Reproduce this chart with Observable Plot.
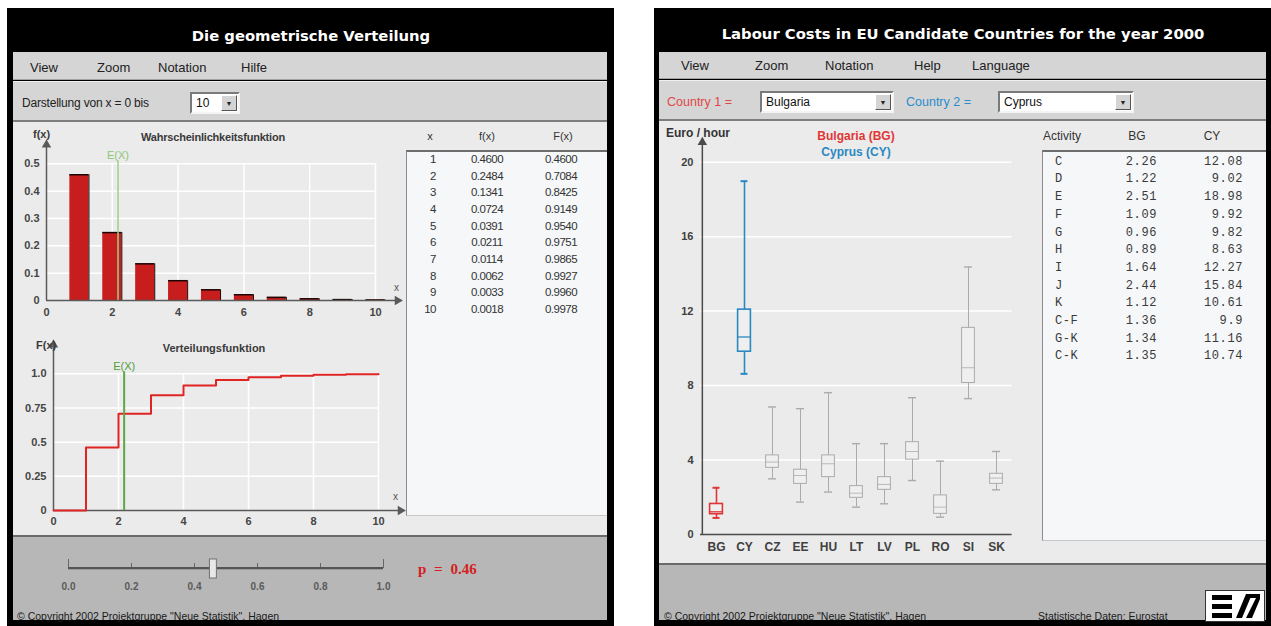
<!DOCTYPE html>
<html><head><meta charset="utf-8">
<script src="https://cdn.jsdelivr.net/npm/d3@7"></script>
<script src="https://cdn.jsdelivr.net/npm/@observablehq/plot@0.6"></script>
<style>
html,body{margin:0;padding:0;background:#fff;}
body{width:1271px;height:626px;position:relative;overflow:hidden;font-family:"Liberation Sans",Arial,sans-serif;}
</style></head>
<body>
<script>
// ---------- data: geometric distribution ----------
const pValue = 0.46;
const kValues = [1,2,3,4,5,6,7,8,9,10];
const pmfValues = [0.4600,0.2484,0.1341,0.0724,0.0391,0.0211,0.0114,0.0062,0.0033,0.0018];
const cdfValues = [0.4600,0.7084,0.8425,0.9149,0.9540,0.9751,0.9865,0.9927,0.9960,0.9978];
const xTicks = [0,2,4,6,8,10];
const pmfYTicks = [0,0.1,0.2,0.3,0.4,0.5];
const cdfYTicks = [0,0.25,0.5,0.75,1.0];
const sliderTicks = [0,0.2,0.4,0.6,0.8,1.0];

// ---------- data: labour costs ----------
const countries = ["BG","CY","CZ","EE","HU","LT","LV","PL","RO","SI","SK"];
const whiskerLow  = [0.89, 8.63, 2.99, 1.74, 2.28, 1.47, 1.65, 2.90, 0.93, 7.30, 2.40];
const boxLow      = [1.09, 9.82, 3.58, 2.72, 3.08, 1.97, 2.40, 4.02, 1.11, 8.14, 2.72];
const medians     = [1.22,10.61, 3.89, 3.17, 3.80, 2.22, 2.69, 4.46, 1.47, 8.96, 3.03];
const boxHigh     = [1.64,12.08, 4.25, 3.48, 4.25, 2.60, 3.08, 4.96, 2.10,11.10, 3.26];
const whiskerHigh = [2.51,18.98, 6.85, 6.76, 7.62, 4.88, 4.88, 7.35, 3.94,14.37, 4.46];
const euroTicks = [0,4,8,12,16,20];

const activities = ["C","D","E","F","G","H","I","J","K","C-F","G-K","C-K"];
const bgCosts = ["2.26","1.22","2.51","1.09","0.96","0.89","1.64","2.44","1.12","1.36","1.34","1.35"];
const cyCosts = ["12.08","9.02","18.98","9.92","9.82","8.63","12.27","15.84","10.61","9.9","11.16","10.74"];

// ---------- helpers ----------
function el(tag, css, text){const e=document.createElement(tag);e.style.cssText="position:absolute;"+css;if(text!=null)e.textContent=text;document.body.appendChild(e);return e;}
function rect(x,y,w,h,css){return el("div",`left:${x}px;top:${y}px;width:${w}px;height:${h}px;box-sizing:border-box;`+(css||""));}
function txt(s,x,y,css,anchor){const tx=anchor==="middle"?"-50%":anchor==="end"?"-100%":"0";return el("div",`left:${x}px;top:${y}px;transform:translate(${tx},-50%);white-space:pre;line-height:1;`+(css||""),s);}
function mount(svg,x,y,w,h){const d=el("div",`left:${x}px;top:${y}px;width:${w}px;height:${h}px;`);d.appendChild(svg);}
function selectBox(x,y,w,label){
  rect(x,y,w,22,"background:#fff;border:2px solid;border-color:#7a7a7a #f4f4f4 #f4f4f4 #7a7a7a");
  txt(label,x+6,y+11,"font-size:12px;color:#111");
  rect(x+w-19,y+3,16,16,"background:#d4d4d4;border:1px solid;border-color:#fff #555 #555 #fff");
  txt("▼",x+w-11,y+11,"font-size:7px;color:#222","middle");
}

const titleCss="color:#fff;font:bold 14.8px 'DejaVu Sans',Verdana,sans-serif;";
const menuCss="font-size:13px;color:#222;";

// ---------- left panel chrome ----------
rect(7,8,607,618,"background:#000");
rect(13,52,594,28,"background:#d5d5d5;border-bottom:1px solid #a4a4a4");
rect(13,81,594,39,"background:#d5d5d5;border-top:1px solid #f0f0f0");
rect(13,120,594,2,"background:#7e7e7e");
rect(13,122,594,413,"background:#ebebeb");
rect(406,150,201,366,"background:#f5f7f9;border-top:2px solid #6e6e6e;border-left:1px solid #8c8c8c;border-bottom:1px solid #c8c8c8");
rect(13,535,594,2,"background:#6a6a6a");
rect(13,537,594,83,"background:#b7b7b7");
txt("Die geometrische Verteilung",311,35,titleCss,"middle");
[["View",30],["Zoom",97],["Notation",158],["Hilfe",241]].forEach(([s,x])=>txt(s,x,67,menuCss));
txt("Darstellung von x = 0 bis",22,103,"font-size:12px;color:#222;letter-spacing:-0.2px");
selectBox(190,92,50,String(kValues[kValues.length-1]));

// ---------- right panel chrome ----------
rect(654,8,617,618,"background:#000");
rect(659,52,607,27,"background:#d5d5d5;border-bottom:1px solid #a4a4a4");
rect(659,80,607,39,"background:#d5d5d5;border-top:1px solid #f0f0f0");
rect(659,119,607,2,"background:#7e7e7e");
rect(659,121,607,442,"background:#ebebeb");
rect(1042,150,224,391,"background:#f5f7f9;border-top:2px solid #6e6e6e;border-left:1px solid #8c8c8c;border-bottom:1px solid #c8c8c8");
rect(659,563,607,2,"background:#6a6a6a");
rect(659,565,607,55,"background:#b7b7b7");
txt("Labour Costs in EU Candidate Countries for the year 2000",963,33,titleCss,"middle");
[["View",681],["Zoom",755],["Notation",825],["Help",914],["Language",972]].forEach(([s,x])=>txt(s,x,65,menuCss));
txt("Country 1 =",667,102,"font-size:12.5px;color:#e04848");
selectBox(760,91,134,"Bulgaria");
txt("Country 2 =",906,102,"font-size:12.5px;color:#2a8ccc");
selectBox(998,91,136,"Cyprus");

// ---------- common plot style ----------
const axisStyle={background:"transparent",overflow:"visible",fontFamily:"'Liberation Sans',Arial,sans-serif",fontSize:"11px",fontWeight:"bold",color:"#454545"};
const eX = 1/pValue;

// ---------- probability function ----------
const pmfData = kValues.map((k,i)=>({k,f:pmfValues[i]}));
const half = 0.29;
const pmfPlot = Plot.plot({
  width:405,height:200,marginLeft:46,marginRight:30,marginTop:41.3,marginBottom:22,
  style:axisStyle,
  x:{domain:[0,10],ticks:xTicks,tickSize:0,tickPadding:8,label:null,tickFormat:d=>String(d)},
  y:{domain:[0,0.5],ticks:pmfYTicks,tickSize:0,tickPadding:7,label:null,tickFormat:d=>d===0?"0":d.toFixed(1)},
  marks:[
    Plot.ruleY(pmfYTicks.slice(1),{x1:0,x2:10,stroke:"#fff",strokeWidth:1.5}),
    Plot.ruleX(xTicks.slice(1),{y1:0,y2:0.5,stroke:"#fff",strokeWidth:1.5}),
    Plot.rectY(pmfData,{x1:d=>d.k-half,x2:d=>d.k+half,y1:0,y2:"f",fill:"#c71d1d"}),
    Plot.ruleY(pmfData,{y:"f",x1:d=>d.k-half,x2:d=>d.k+half,stroke:"#1a0505",strokeWidth:1.5}),
    Plot.ruleX(pmfData,{x:d=>d.k+half,y1:0,y2:"f",stroke:"#1a0505",strokeWidth:1}),
    Plot.ruleX([eX],{insetTop:-3,stroke:"#9fd08a",strokeWidth:1.5}),
    Plot.text(["E(X)"],{x:()=>eX,frameAnchor:"top",dy:-13,fill:"#8cc476",fontSize:11,fontWeight:"normal"}),
    Plot.ruleX([0],{insetTop:-18,stroke:"#5a5a5a",strokeWidth:1.5}),
    Plot.ruleY([0],{insetRight:-21,stroke:"#5a5a5a",strokeWidth:1.5}),
    Plot.dot([0],{x:0,frameAnchor:"top",dy:-19,symbol:"triangle",r:3.5,fill:"#5a5a5a",stroke:"none"}),
    Plot.dot([0],{y:0,frameAnchor:"right",dx:22,symbol:"triangle",rotate:90,r:3.5,fill:"#5a5a5a",stroke:"none"})
  ]
});
mount(pmfPlot,0,122,405,200);

// ---------- distribution function ----------
const cdfLine = [{x:0,F:0}].concat(kValues.map((k,i)=>({x:k,F:cdfValues[i]})));
const cdfPlot = Plot.plot({
  width:405,height:200,marginLeft:53,marginRight:27,marginTop:43.3,marginBottom:20,
  style:axisStyle,
  x:{domain:[0,10],ticks:xTicks,tickSize:0,tickPadding:7,label:null,tickFormat:d=>String(d)},
  y:{domain:[0,1],ticks:cdfYTicks,tickSize:0,tickPadding:7,label:null,tickFormat:d=>d===0?"0":d===1?"1.0":String(d)},
  marks:[
    Plot.ruleY(cdfYTicks.slice(1),{x1:0,x2:10,stroke:"#fff",strokeWidth:1.5}),
    Plot.ruleX(xTicks.slice(1),{y1:0,y2:1,stroke:"#fff",strokeWidth:1.5}),
    Plot.ruleX([0],{insetTop:-28,stroke:"#5a5a5a",strokeWidth:1.5}),
    Plot.ruleY([0],{insetRight:-21,stroke:"#5a5a5a",strokeWidth:1.5}),
    Plot.line(cdfLine,{x:"x",y:"F",curve:"step-after",stroke:"#e02424",strokeWidth:2}),
    Plot.ruleX([eX],{insetTop:-2,stroke:"#5aa845",strokeWidth:2}),
    Plot.text(["E(X)"],{x:()=>eX,frameAnchor:"top",dy:-12,fill:"#4f9e3c",fontSize:11,fontWeight:"normal"}),
    Plot.dot([0],{x:0,frameAnchor:"top",dy:-29,symbol:"triangle",r:3.5,fill:"#5a5a5a",stroke:"none"}),
    Plot.dot([0],{y:0,frameAnchor:"right",dx:22,symbol:"triangle",rotate:90,r:3.5,fill:"#5a5a5a",stroke:"none"})
  ]
});
mount(cdfPlot,0,330,405,200);

// labels of left charts
const lblCss="font-size:11px;font-weight:bold;color:#3a3a3a;";
txt("f(x)",33,134,lblCss);
txt("Wahrscheinlichkeitsfunktion",213,137,lblCss+"letter-spacing:-0.2px","middle");
txt("x",394,288,"font-size:10px;color:#555");
txt("F(x)",36,345,lblCss);
txt("Verteilungsfunktion",214,348,lblCss,"middle");
txt("x",393,497,"font-size:10px;color:#555");

// ---------- left table ----------
const tCss="font-size:11.5px;color:#333;letter-spacing:-0.5px;";
txt("x",430,136,"font-size:11px;color:#333","middle");
txt("f(x)",487,136,"font-size:11px;color:#333","middle");
txt("F(x)",563,136,"font-size:11px;color:#333","middle");
kValues.forEach((k,i)=>{
  const y=160+i*16.67;
  txt(String(k),436,y,tCss,"end");
  txt(pmfValues[i].toFixed(4),487,y,tCss,"middle");
  txt(cdfValues[i].toFixed(4),561,y,tCss,"middle");
});

// ---------- slider ----------
const sliderPlot = Plot.plot({
  width:405,height:50,marginLeft:68,marginRight:22,marginTop:5,marginBottom:25,
  style:Object.assign({},axisStyle,{fontSize:"10px",color:"#5a5a5a"}),
  x:{domain:[0,1],ticks:sliderTicks,tickSize:0,tickPadding:7,label:null,tickFormat:d3.format(".1f")},
  y:{domain:[0,1],axis:null},
  marks:[
    Plot.ruleX(sliderTicks,{y1:0.35,y2:0.6,stroke:"#666"}),
    Plot.ruleX([0,1],{y1:0.35,y2:0.8,stroke:"#666"}),
    Plot.ruleY([0.35],{x1:0,x2:1,stroke:"#555",strokeWidth:3}),
    Plot.ruleY([0.35],{x1:0,x2:1,stroke:"#9a9a9a",strokeWidth:1,dy:1}),
    Plot.rect([pValue],{x1:d=>d-0.011,x2:d=>d+0.011,y1:-0.15,y2:0.8,fill:"#e8e8e8",stroke:"#707070"})
  ]
});
mount(sliderPlot,0,550,405,50);
txt("p = "+pValue.toFixed(2),418,569,"font:bold 15px 'Liberation Serif',serif;color:#d42020;word-spacing:4px");
txt("© Copyright 2002 Projektgruppe \"Neue Statistik\", Hagen",17,616,"font-size:10.5px;color:#1a1a1a");

// ---------- box plot ----------
const boxes = countries.map((c,i)=>({c,lo:whiskerLow[i],q1:boxLow[i],med:medians[i],q3:boxHigh[i],hi:whiskerHigh[i]}));
const highlight = {BG:"#e03636",CY:"#2a88c2"};
const greyBoxes = boxes.filter(d=>!highlight[d.c]);
const hiBoxes = boxes.filter(d=>highlight[d.c]);
const hs = d=>highlight[d.c];
function boxMarks(data,stroke,sw,capInset){
  return [
    Plot.ruleX(data,{x:"c",y1:"lo",y2:"hi",stroke,strokeWidth:sw}),
    Plot.tickY(data,{x:"c",y:"lo",stroke,strokeWidth:sw+0.4,insetLeft:capInset,insetRight:capInset}),
    Plot.tickY(data,{x:"c",y:"hi",stroke,strokeWidth:sw+0.4,insetLeft:capInset,insetRight:capInset}),
    Plot.barY(data,{x:"c",y1:"q1",y2:"q3",fill:"#efefef",stroke,strokeWidth:sw,insetLeft:7.6,insetRight:7.6}),
    Plot.tickY(data,{x:"c",y:"med",stroke,strokeWidth:sw*0.8,insetLeft:7.6,insetRight:7.6})
  ];
}
const boxPlot = Plot.plot({
  width:385,height:440,marginLeft:45,marginRight:28.4,marginTop:39.7,marginBottom:28,
  style:Object.assign({},axisStyle,{color:"#404040"}),
  x:{type:"band",domain:countries,padding:0,tickSize:0,tickPadding:8,label:null},
  y:{domain:[0,20],ticks:euroTicks,tickSize:0,tickPadding:7,label:null},
  marks:[
    Plot.ruleY(euroTicks.slice(1),{stroke:"#fff",strokeWidth:1.5}),
    ...boxMarks(greyBoxes,"#ababab",1,10),
    ...boxMarks(hiBoxes,hs,1.6,10.5),
    Plot.ruleY([0],{stroke:"#4a4a4a",strokeWidth:1.5}),
    Plot.ruleX([countries[0]],{x:d=>d,dx:-14.16,insetTop:-19,stroke:"#4a4a4a",strokeWidth:1.5}),
    Plot.dot([countries[0]],{x:d=>d,dx:-14.16,frameAnchor:"top",dy:-20,symbol:"triangle",r:3.5,fill:"#4a4a4a",stroke:"none"})
  ]
});
boxPlot.querySelectorAll('[aria-label="x-axis tick label"] text').forEach(t=>t.style.fontSize="12px");
mount(boxPlot,655,122,385,440);
txt("Euro / hour",666,133,"font-size:12px;font-weight:bold;color:#333");
txt("Bulgaria (BG)",856,136,"font-size:12px;font-weight:bold;color:#e03636","middle");
txt("Cyprus (CY)",856,152,"font-size:12px;font-weight:bold;color:#2a88c2","middle");

// ---------- right table ----------
txt("Activity",1043,136,"font-size:12px;color:#333");
txt("BG",1137,136,"font-size:12px;color:#333","middle");
txt("CY",1212,136,"font-size:12px;color:#333","middle");
const mCss="font:12px 'Liberation Mono','DejaVu Sans Mono',monospace;color:#3a3a3a;letter-spacing:0.6px;";
activities.forEach((a,i)=>{
  const y=161.7+i*17.7;
  txt(a,1055,y,mCss);
  txt(bgCosts[i],1157,y,mCss,"end");
  txt(cyCosts[i],1243,y,mCss,"end");
});

// ---------- right footer ----------
txt("© Copyright 2002 Projektgruppe \"Neue Statistik\", Hagen",664,616,"font-size:10.5px;color:#1a1a1a");
txt("Statistische Daten: Eurostat",1038,616,"font-size:10.5px;color:#1a1a1a");
const logo = rect(1205,590,60,32,"background:#fff;border:1px solid #333");
logo.innerHTML='<svg width="58" height="30" viewBox="0 0 58 30"><rect x="6" y="4" width="20" height="5" fill="#000"/><rect x="6" y="13" width="20" height="5" fill="#000"/><rect x="6" y="22" width="20" height="5" fill="#000"/><polygon points="30,27 36,27 46,3 40,3" fill="#000"/><polygon points="40,27 46,27 54,8 54,3 52,3" fill="#000"/><rect x="44" y="3" width="10" height="4" fill="#000"/></svg>';
</script>
</body></html>
